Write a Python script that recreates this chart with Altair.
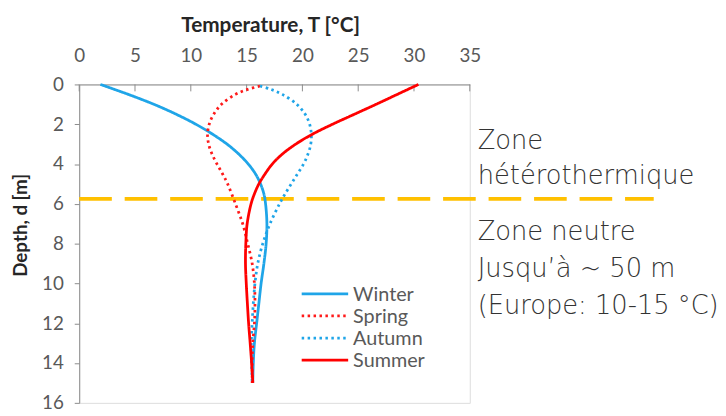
import altair as alt
import pandas as pd

# ---- data ----
seasons = ["Winter", "Spring", "Autumn", "Summer"]
season_colors = ["#1FA5E8", "#FF1A1A", "#1FA5E8", "#FF0000"]
season_dashes = [[1, 0], [2.5, 3.5], [2.5, 3.5], [1, 0]]

depth_winter = [0, 0.5, 1, 1.5, 2, 2.5, 3, 3.5, 4, 4.5, 5, 5.5, 6, 7, 8, 9, 10, 11, 12, 13, 14, 15]
temp_winter = [1.9, 4.4, 6.7, 8.7, 10.45, 11.95, 13.25, 14.3, 15.15, 15.8, 16.25, 16.55, 16.7, 16.82,
               16.75, 16.55, 16.3, 16.1, 15.9, 15.7, 15.6, 15.55]

depth_summer = [0, 0.5, 1, 1.5, 2, 2.5, 3, 3.5, 4, 4.5, 5, 5.5, 6, 7, 8, 9, 10, 11, 12, 13, 14, 15]
temp_summer = [30.4, 28.5, 26.6, 24.65, 22.7, 20.9, 19.4, 18.2, 17.3, 16.65, 16.1, 15.7, 15.4, 15.05,
               14.93, 14.9, 14.97, 15.07, 15.18, 15.32, 15.45, 15.56]

depth_spring = [0.08, 0.25, 0.5, 1, 1.5, 2, 2.5, 3, 3.5, 4, 4.5, 5, 6, 7, 8, 9, 10, 11, 12, 13, 14, 15]
temp_spring = [16.2, 15.1, 14.0, 12.75, 12.05, 11.65, 11.5, 11.6, 11.9, 12.35, 12.85, 13.3, 14.0, 14.65,
               15.1, 15.5, 15.7, 15.75, 15.7, 15.55, 15.5, 15.5]

depth_autumn = [0.08, 0.25, 0.5, 1, 1.5, 2, 2.5, 3, 3.5, 4, 4.5, 5, 5.5, 6, 7, 8, 9, 10, 11, 12, 13, 14, 15]
temp_autumn = [16.2, 17.2, 18.2, 19.5, 20.25, 20.65, 20.8, 20.75, 20.5, 20.1, 19.55, 19.0, 18.45, 17.95,
               17.1, 16.45, 16.0, 15.75, 15.6, 15.5, 15.42, 15.45, 15.5]

x_ticks = [0, 5, 10, 15, 20, 25, 30, 35]
y_ticks = [0, 2, 4, 6, 8, 10, 12, 14, 16]
neutral_depth = [5.75]

zone_top_lines = ["Zone", "hétérothermique"]
zone_bottom_lines = ["Zone neutre", "Jusqu\u2019à ~ 50 m", "(Europe: 10-15 °C)"]

# ---- build table ----
rows = []
for name, ds, ts in [("Winter", depth_winter, temp_winter),
                     ("Spring", depth_spring, temp_spring),
                     ("Autumn", depth_autumn, temp_autumn),
                     ("Summer", depth_summer, temp_summer)]:
    for d, t in zip(ds, ts):
        rows.append({"season": name, "depth": d, "temp": t})
df = pd.DataFrame(rows)

AX_FONT = "Lato"
GREY = "#8C8C8C"
LABEL = "#595959"

x_scale = alt.Scale(domain=[0, 35], nice=False, zero=False)
y_scale = alt.Scale(domain=[0, 16], reverse=True, nice=False, zero=False)

x_axis = alt.Axis(orient="top", values=x_ticks, title="Temperature, T [°C]", grid=False,
                  tickSize=0, labelPadding=19, labelFontSize=19, labelColor=LABEL,
                  labelFont=AX_FONT, titleFont=AX_FONT, titleFontSize=21, titleFontWeight="bold",
                  titleColor="#262626", titlePadding=12, titleX=193, domainColor=GREY, labelFlush=False)
y_axis = alt.Axis(orient="left", values=y_ticks, title="Depth, d [m]", grid=False,
                  tickSize=5, tickColor=GREY, labelPadding=11, labelFontSize=19, labelColor=LABEL,
                  labelFont=AX_FONT, titleFont=AX_FONT, titleFontSize=19, titleFontWeight="bold",
                  titleColor="#262626", titleX=-49, titleY=142, domainColor=GREY, labelFlush=False)

X = alt.X("temp:Q", scale=x_scale, axis=x_axis)
Y = alt.Y("depth:Q", scale=y_scale, axis=y_axis)

color = alt.Color("season:N", scale=alt.Scale(domain=seasons, range=season_colors), legend=None)
dash = alt.StrokeDash("season:N", scale=alt.Scale(domain=seasons, range=season_dashes), legend=None)

lines = alt.Chart(df).mark_line(strokeWidth=2.8, interpolate="catmull-rom").encode(
    x=X, y=Y, color=color, strokeDash=dash, detail="season:N", order="depth:Q"
)

tick_df = pd.DataFrame({"temp": x_ticks})
ticks = alt.Chart(tick_df).mark_rule(color=GREY, strokeWidth=1).encode(
    x=X, y=alt.value(0), y2=alt.value(7)
)

rule_df = pd.DataFrame({"depth": neutral_depth})
neutral = alt.Chart(rule_df).mark_rule(color="#FFC000", strokeWidth=4, strokeDash=[33, 13]).encode(
    y=Y, x=alt.value(0), x2=alt.value(581)
)

ann_df = pd.DataFrame({"k": [0]})
ann1 = alt.Chart(ann_df).mark_text(
    text=zone_top_lines, align="left", baseline="alphabetic", font="DejaVu Sans",
    fontWeight=300, fontSize=26, lineHeight=36, color="#333333"
).encode(x=alt.value(403), y=alt.value(65))
ann2 = alt.Chart(ann_df).mark_text(
    text=zone_bottom_lines, align="left", baseline="alphabetic", font="DejaVu Sans",
    fontWeight=300, fontSize=26, lineHeight=37.5, color="#333333"
).encode(x=alt.value(403), y=alt.value(157))

legend_layers = []
for i, s in enumerate(seasons):
    yy = 211.7 + 22.4 * i
    leg_df = pd.DataFrame({"season": [s]})
    legend_layers.append(
        alt.Chart(leg_df).mark_rule(strokeWidth=2.8).encode(
            x=alt.value(225), x2=alt.value(272), y=alt.value(yy), color=color, strokeDash=dash
        )
    )
    legend_layers.append(
        alt.Chart(leg_df).mark_text(align="left", baseline="middle", font=AX_FONT,
                                    fontSize=20, color=LABEL).encode(
            x=alt.value(277), y=alt.value(yy + 1), text="season:N"
        )
    )

chart = alt.layer(neutral, ticks, lines, ann1, ann2, *legend_layers).properties(
    width=395, height=322,
    autosize=alt.AutoSizeParams(type="none"),
    padding={"left": 72, "top": 75, "right": 251, "bottom": 11},
).configure_view(stroke=GREY, strokeWidth=1).configure(background="white")

chart.save("out.html", embed_options={"renderer": "svg", "actions": False})
